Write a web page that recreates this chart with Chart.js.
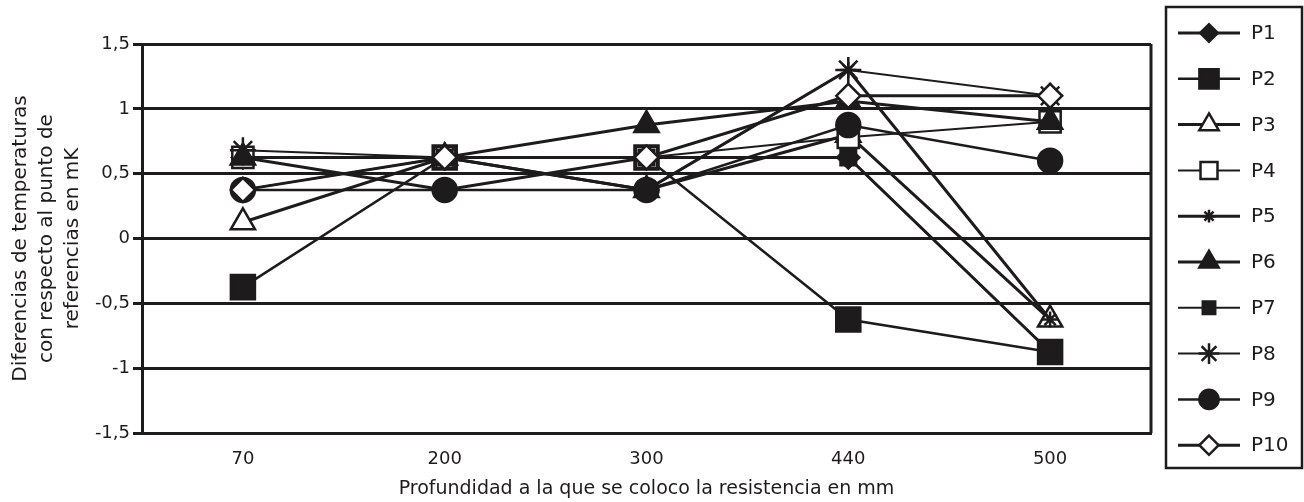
<!DOCTYPE html>
<html>
<head>
<meta charset="utf-8">
<script src="https://cdn.jsdelivr.net/npm/chart.js@4/dist/chart.umd.min.js"></script>
<style>
  html, body { margin: 0; padding: 0; background: #fff; }
  #wrap { width: 1304px; height: 502px; }
</style>
</head>
<body>
<div id="wrap"><canvas id="grafico" width="1304" height="502"></canvas></div>
<script>
// profundidad (mm)
const categories = ["70", "200", "300", "440", "500"];
const seriesNames = ["P1", "P2", "P3", "P4", "P5", "P6", "P7", "P8", "P9", "P10"];

// diferencias de temperatura en mK
const p1  = [0.625, 0.375, 0.625, 0.625, -0.875];
const p2  = [-0.375, 0.625, 0.625, -0.625, -0.875];
const p3  = [0.125, 0.625, 0.375, 0.8, -0.625];
const p4  = [0.625, 0.625, 0.625, 0.78, 0.9];
const p5  = [0.625, 0.625, 0.375, 1.3, -0.625];
const p6  = [0.625, 0.625, 0.875, 1.06, 0.9];
const p7  = [0.375, 0.625, 0.625, 0.625, -0.875];
const p8  = [0.68, 0.625, 0.375, 1.3, 1.1];
const p9  = [0.375, 0.375, 0.375, 0.875, 0.6];
const p10 = [0.375, 0.625, 0.625, 1.1, 1.1];
const allSeries = [p1, p2, p3, p4, p5, p6, p7, p8, p9, p10];

const yMin = -1.5, yMax = 1.5, yStep = 0.5;

const ink = "#1e1b1c";
const font = "'DejaVu Sans', sans-serif";

// marcador de cada serie
const looks = [
  { style: "rectRot",  r: 11, fill: ink,    line: 3 },
  { style: "rect",     r: 17, fill: ink,    line: 2.5 },
  { style: "triangle", r: 14, fill: "#fff", line: 3 },
  { style: "rect",     r: 15, fill: "#fff", line: 2 },
  { style: "star",     r: 8,  fill: ink,    line: 3 },
  { style: "triangle", r: 14, fill: ink,    line: 3 },
  { style: "rect",     r: 11, fill: ink,    line: 2 },
  { style: "star",     r: 13, fill: ink,    line: 2 },
  { style: "circle",   r: 12, fill: ink,    line: 2.5 },
  { style: "rectRot",  r: 12, fill: "#fff", line: 3 }
];

const datasets = seriesNames.map(function (name, i) {
  const lk = looks[i];
  return {
    label: name,
    data: allSeries[i],
    borderColor: ink,
    borderWidth: lk.line,
    tension: 0,
    pointStyle: lk.style,
    pointRadius: lk.r,
    pointHoverRadius: lk.r,
    pointBackgroundColor: lk.fill,
    pointBorderColor: ink,
    pointBorderWidth: 2.5,
    order: seriesNames.length - i
  };
});

function drawMark(ctx, lk, x, y, r) {
  ctx.save();
  ctx.fillStyle = lk.fill;
  ctx.strokeStyle = ink;
  ctx.lineWidth = 2.5;
  if (Chart.helpers && Chart.helpers.drawPoint) {
    Chart.helpers.drawPoint(ctx, { pointStyle: lk.style, radius: r, rotation: 0, borderWidth: 2.5 }, x, y);
  } else {
    ctx.beginPath();
    ctx.arc(x, y, r, 0, Math.PI * 2);
    ctx.fill();
    ctx.stroke();
  }
  ctx.restore();
}

const frameAndLegend = {
  id: "frameAndLegend",
  beforeDatasetsDraw(chart) {
    const a = chart.chartArea, ctx = chart.ctx;
    ctx.save();
    ctx.strokeStyle = ink;
    ctx.lineWidth = 3;
    ctx.beginPath();
    ctx.moveTo(a.right, a.top);
    ctx.lineTo(a.right, a.bottom);
    ctx.stroke();
    ctx.restore();
  },
  afterDraw(chart) {
    const ctx = chart.ctx;
    const bx = 1166, by = 7, bw = 136, bh = 461;
    ctx.save();
    ctx.strokeStyle = ink;
    ctx.lineWidth = 2.5;
    ctx.strokeRect(bx, by, bw, bh);
    ctx.font = "20px " + font;
    ctx.fillStyle = ink;
    ctx.textBaseline = "middle";
    seriesNames.forEach(function (name, i) {
      const y = 33 + i * 45.8;
      const lk = looks[i];
      ctx.strokeStyle = ink;
      ctx.lineWidth = lk.line;
      ctx.beginPath();
      ctx.moveTo(1178, y);
      ctx.lineTo(1240, y);
      ctx.stroke();
      drawMark(ctx, lk, 1209, y, lk.r * 0.8);
      ctx.fillStyle = ink;
      ctx.fillText(name, 1251, y + 1);
    });
    ctx.restore();
  }
};

new Chart(document.getElementById("grafico"), {
  type: "line",
  data: { labels: categories, datasets: datasets },
  plugins: [frameAndLegend],
  options: {
    responsive: false,
    animation: false,
    layout: { padding: { left: 0, right: 153, top: 44, bottom: 2 } },
    plugins: {
      legend: { display: false },
      tooltip: { enabled: false }
    },
    scales: {
      x: {
        offset: true,
        grid: { display: false, drawTicks: false },
        border: { display: true, color: ink, width: 3 },
        ticks: { color: ink, font: { family: font, size: 18 }, padding: 16, maxRotation: 0 },
        title: {
          display: true,
          text: "Profundidad a la que se coloco la resistencia en mm",
          color: ink,
          font: { family: font, size: 19 },
          padding: { top: 1, bottom: 0 }
        },
        afterFit(scale) { scale.height = 67; }
      },
      y: {
        min: yMin,
        max: yMax,
        grid: { color: ink, lineWidth: 3, drawTicks: true, tickLength: 9, tickColor: ink },
        border: { display: true, color: ink, width: 3 },
        ticks: {
          stepSize: yStep,
          color: ink,
          font: { family: font, size: 18 },
          padding: 3,
          callback: function (v) { return String(v).replace(".", ","); }
        },
        title: {
          display: true,
          text: ["Diferencias de temperaturas", "con respecto al punto de", "referencias en mK"],
          color: ink,
          font: { family: font, size: 20, lineHeight: 1.3 },
          padding: { top: 8, bottom: 0 }
        },
        afterFit(scale) { scale.width = 142; }
      }
    }
  }
});
</script>
</body>
</html>
